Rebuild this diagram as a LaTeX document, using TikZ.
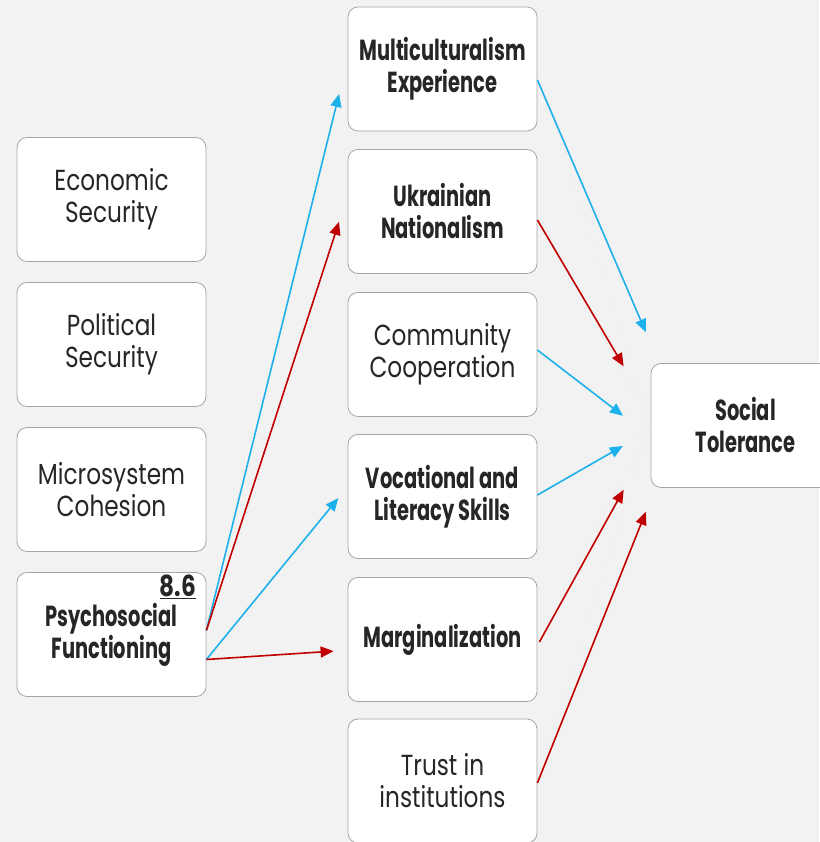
\documentclass[tikz,border=0pt]{standalone}
\usepackage{fontspec}
\setmainfont{Poppins}
\newfontfamily\plainfont{Poppins}[FakeStretch=0.8]
\newfontfamily\heavyfont{Poppins}[FakeStretch=0.67]
\usetikzlibrary{arrows.meta,calc}

\definecolor{bggray}{HTML}{F2F2F2}
\definecolor{boxgray}{HTML}{A6A6A6}
\definecolor{textgray}{HTML}{262626}
\definecolor{tolblue}{HTML}{1DB1EC}
\definecolor{tolred}{HTML}{C00000}

\tikzset{
  box/.style={draw=boxgray, fill=white, rounded corners=10pt, line width=0.8pt,
    minimum width=189pt, minimum height=124pt, align=center, text=textgray,
    font=\fontsize{29}{32}\selectfont\plainfont},
  boldbox/.style={box, font=\fontsize{29}{32}\selectfont\heavyfont\bfseries},
  link/.style={-{Triangle[length=13pt,width=11pt]}, line width=1.6pt, shorten >=2pt},
  poslink/.style={link, draw=tolblue},
  neglink/.style={link, draw=tolred},
  ghost/.style={draw=gray!25, densely dotted, line width=0.3pt}
}

\begin{document}
\begin{tikzpicture}[x=1pt,y=1pt]
\fill[bggray] (0,0) rectangle (819,842);
\useasboundingbox (0,0) rectangle (819,842);

% left column
\node[box] (eco) at (111.5,642.5) {Economic\\Security};
\node[box] (pol) at (111.5,497.5) {Political\\Security};
\node[box] (mic) at (111.5,352.5) {Microsystem\\Cohesion};
\node[boldbox] (psy) at (111.5,207.5) {Psychosocial\\Functioning};
\node[text=textgray, font=\fontsize{29}{32}\selectfont\plainfont\bfseries, anchor=south east]
  (val) at ($(psy.north east)+(-7,-30)$) {\underline{8.6}};

% middle column
\node[boldbox] (mc) at (442.5,773) {Multiculturalism\\Experience};
\node[boldbox] (un) at (442.5,630.5) {Ukrainian\\Nationalism};
\node[box] (co) at (442.5,487.5) {Community\\Cooperation};
\node[boldbox] (vo) at (442.5,345.5) {Vocational and\\Literacy Skills};
\node[boldbox] (ma) at (442.5,202.5) {Marginalization};
\node[box] (tr) at (442.5,61) {Trust in\\institutions};

% outcome
\node[boldbox] (st) at (745.5,416.5) {Social\\Tolerance};

% faint guide lines
\foreach \m in {mc,un,co,vo,ma,tr}
  \draw[ghost] (\m.east) -- (st.west);

% psychosocial paths
\draw[poslink] ($(psy.east)+(0,4)$) -- ($(mc.west)+(-8,-23)$);
\draw[neglink] ($(psy.east)+(0,4)$) -- ($(un.west)+(-8,-8.5)$);
\draw[poslink] ($(psy.east)+(0,-25)$) -- ($(vo.west)+(-8,0)$);
\draw[neglink] ($(psy.east)+(0,-25)$) -- ($(ma.west)+(-12,-11.5)$);

% paths into social tolerance
\draw[poslink] ($(mc.east)+(0,-11)$) -- ($(st.west)+(-4,91.5)$);
\draw[neglink] ($(un.east)+(0,-8.5)$) -- ($(st.west)+(-26,57.5)$);
\draw[poslink] ($(co.east)+(0,4.5)$) -- ($(st.west)+(-26,8.5)$);
\draw[poslink] ($(vo.east)+(0,1.5)$) -- ($(st.west)+(-26,-19.5)$);
\draw[neglink] ($(ma.east)+(2,-2.5)$) -- ($(st.west)+(-26,-62.5)$);
\draw[neglink] ($(tr.east)+(0,-2)$) -- ($(st.west)+(-4,-84.5)$);
\end{tikzpicture}
\end{document}
